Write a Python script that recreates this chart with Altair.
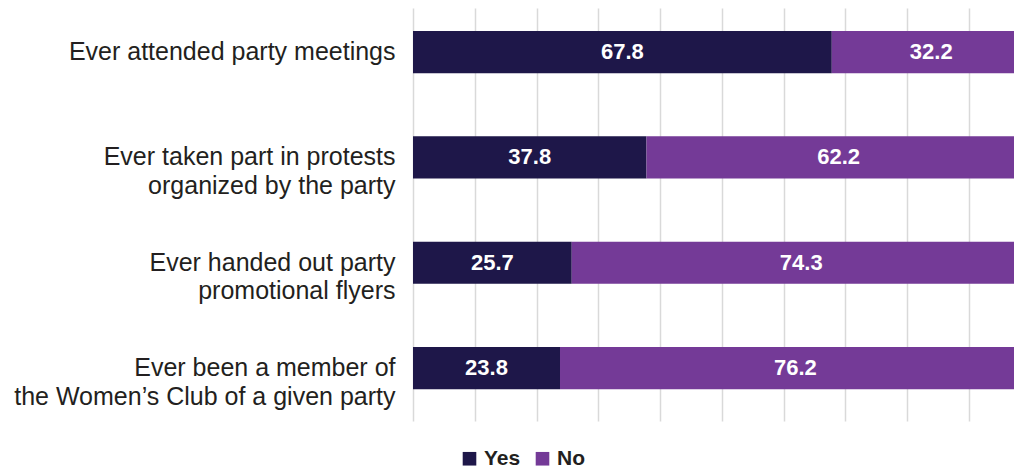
import altair as alt
import pandas as pd

categories = [
    "Ever attended party meetings",
    "Ever taken part in protests|organized by the party",
    "Ever handed out party|promotional flyers",
    "Ever been a member of|the Women\u2019s Club of a given party",
]
yes_values = [67.8, 37.8, 25.7, 23.8]
no_values = [32.2, 62.2, 74.3, 76.2]
responses = ["Yes", "No"]
colors = ["#1e1749", "#743a97"]

rows = []
for c, y, n in zip(categories, yes_values, no_values):
    rows.append({"cat": c, "resp": "Yes", "value": y, "start": 0.0, "end": y})
    rows.append({"cat": c, "resp": "No", "value": n, "start": y, "end": y + n})
df = pd.DataFrame(rows)

FONT = "Liberation Sans"

xscale = alt.Scale(domain=[0, 97.3], nice=False, zero=True)
yscale = alt.Scale(domain=categories, paddingInner=0.6, paddingOuter=0.26, align=0.42)

base = alt.Chart(df)

bars = base.mark_bar(clip=True).encode(
    x=alt.X("start:Q", scale=xscale,
            axis=alt.Axis(values=[0, 10, 20, 30, 40, 50, 60, 70, 80, 90], labels=False,
                          ticks=False, domain=False, title=None, grid=True,
                          gridColor="#d9d9d9", gridWidth=1.5)),
    x2="end:Q",
    y=alt.Y("cat:N", scale=yscale, sort=categories,
            axis=alt.Axis(title=None, ticks=False, domain=False,
                          labelExpr="split(datum.label, '|')",
                          labelFont=FONT, labelFontSize=25, labelColor="#231f20",
                          labelLineHeight=28.5, labelPadding=18, labelLimit=600,
                          labelAlign="right", labelBaseline="middle")),
    color=alt.Color("resp:N", scale=alt.Scale(domain=responses, range=colors),
                    legend=alt.Legend(title=None, orient="none", legendX=46, legendY=440,
                                      direction="horizontal", symbolType="square",
                                      symbolSize=185, symbolStrokeWidth=0,
                                      labelFont=FONT, labelFontSize=21, labelFontWeight="bold",
                                      labelColor="#231f20", labelOffset=4, columnPadding=11)),
)

labels = base.transform_calculate(mid="(datum.start + datum.end) / 2").mark_text(
    color="white", font="'Liberation Sans Narrow', 'Arial Narrow', 'Liberation Sans', Arial, sans-serif",
    fontWeight="bold", fontSize=22,
    align="center", baseline="middle"
).encode(
    x=alt.X("mid:Q", scale=xscale),
    y=alt.Y("cat:N", scale=yscale, sort=categories),
    text=alt.Text("value:Q", format=".1f"),
)

chart = (bars + labels).properties(
    width=601, height=413,
    autosize=alt.AutoSizeParams(type="none"),
    padding={"left": 405, "top": 0, "right": 0, "bottom": 50},
).configure_view(stroke=None)

chart.save("out.html", embed_options={"renderer": "svg", "actions": False})
